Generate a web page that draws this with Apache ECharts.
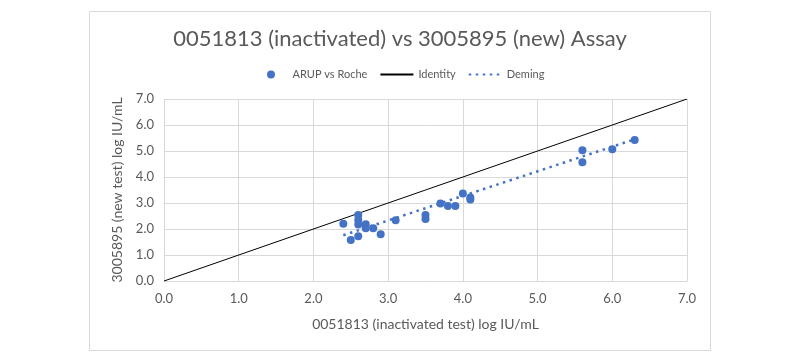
<!DOCTYPE html>
<html><head><meta charset="utf-8">
<script src="https://cdn.jsdelivr.net/npm/echarts@6/dist/echarts.min.js"></script>
<style>html,body{margin:0;padding:0;background:#fff}#c{width:800px;height:364px}</style>
</head><body><div id="c"></div>
<script>
const titleText = '0051813 (inactivated) vs 3005895 (new) Assay';
const xName = '0051813 (inactivated test) log IU/mL';
const yName = '3005895 (new test) log IU/mL';
const seriesNames = ['ARUP vs Roche', 'Identity', 'Deming'];
const inactivated = [2.4, 2.5, 2.6, 2.6, 2.6, 2.6, 2.7, 2.7, 2.8, 2.9, 3.1, 3.5, 3.5, 3.7, 3.8, 3.9, 4.0, 4.1, 4.1, 5.6, 5.6, 6.0, 6.3];
const newTest =     [2.2, 1.58, 2.54, 2.35, 2.17, 1.72, 2.18, 2.03, 2.03, 1.80, 2.34, 2.54, 2.38, 2.98, 2.88, 2.88, 3.37, 3.21, 3.13, 5.03, 4.57, 5.07, 5.42];
const identityX = [0, 7];
const identityY = [0, 7];
const demingX = [2.4, 6.3];
const demingY = [1.76, 5.45];

const zip = (a, b) => a.map((v, i) => [v, b[i]]);
const grey = '#595959';
const font = 'Lato, "Liberation Sans", sans-serif';
const hidden = {color: 'rgba(0,0,0,0)', borderWidth: 0, opacity: 0};
const chart = echarts.init(document.getElementById('c'), null, {renderer: 'canvas'});
chart.setOption({
  animation: false,
  textStyle: {fontFamily: font},
  graphic: [{type: 'rect', shape: {x: 89.5, y: 11.5, width: 621, height: 339}, style: {fill: 'none', stroke: '#d9d9d9', lineWidth: 1}, z: -10}],
  title: {text: titleText, left: 'center', top: 23, textStyle: {fontSize: 22, fontWeight: 'normal', color: grey, fontFamily: font}},
  legend: {
    top: 64, left: 262, itemGap: 12, itemWidth: 33, itemHeight: 8,
    textStyle: {fontSize: 11, color: grey, fontFamily: font},
    data: [
      {name: seriesNames[0], icon: 'circle'},
      {name: seriesNames[1], itemStyle: hidden},
      {name: seriesNames[2], itemStyle: hidden}
    ]
  },
  grid: {left: 164, right: 113, top: 99, bottom: 83},
  xAxis: {
    type: 'value', min: 0, max: 7, interval: 1,
    name: xName, nameLocation: 'middle', nameGap: 36,
    nameTextStyle: {fontSize: 14, color: grey, fontFamily: font},
    axisLine: {show: true, lineStyle: {color: '#d9d9d9'}},
    axisTick: {show: false},
    axisLabel: {color: grey, fontSize: 13, margin: 11, formatter: v => v.toFixed(1)},
    splitLine: {show: true, lineStyle: {color: '#d9d9d9'}}
  },
  yAxis: {
    type: 'value', min: 0, max: 7, interval: 1,
    name: yName, nameLocation: 'middle', nameGap: 34,
    nameTextStyle: {fontSize: 14, color: grey, fontFamily: font},
    axisLine: {show: false},
    axisTick: {show: false},
    axisLabel: {color: grey, fontSize: 13, margin: 10, formatter: v => v.toFixed(1)},
    splitLine: {show: true, lineStyle: {color: '#d9d9d9'}}
  },
  series: [
    {name: seriesNames[0], type: 'scatter', data: zip(inactivated, newTest), symbolSize: 8, itemStyle: {color: '#4472C4', opacity: 1}, z: 3},
    {name: seriesNames[1], type: 'line', data: zip(identityX, identityY), showSymbol: false, symbol: 'none', lineStyle: {color: '#000', width: 1}, itemStyle: {color: '#000'}},
    {name: seriesNames[2], type: 'line', data: zip(demingX, demingY), showSymbol: false, symbol: 'none', lineStyle: {color: '#4472C4', width: 2.5, type: [2.5, 4.5]}, itemStyle: {color: '#4472C4'}}
  ]
});
</script></body></html>
